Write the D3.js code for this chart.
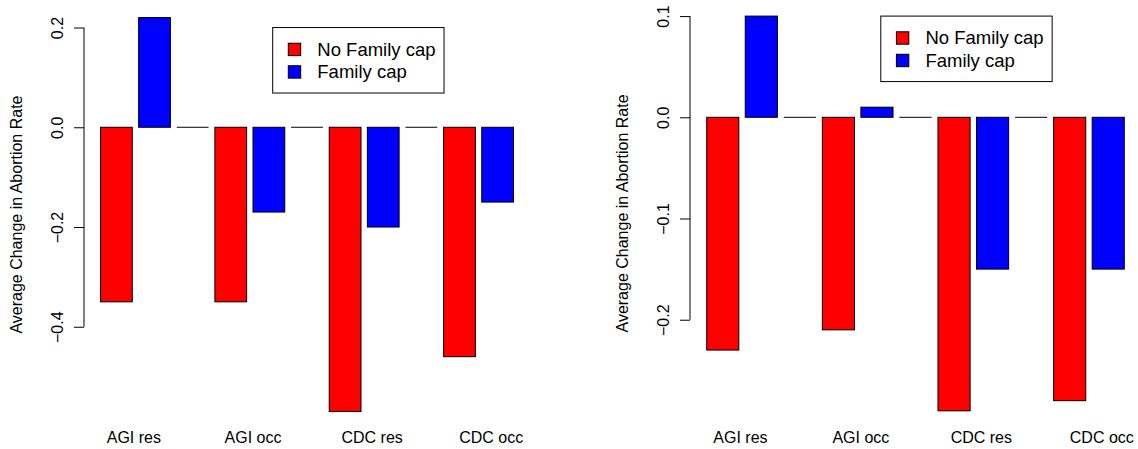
<!DOCTYPE html>
<html>
<head>
<meta charset="utf-8">
<script src="https://cdn.jsdelivr.net/npm/d3@7"></script>
<style>
  body { margin: 0; background: #fff; }
  text { font-family: "Liberation Sans", Arial, sans-serif; }
</style>
</head>
<body>
<div id="chart"></div>
<script>
const categories = ["AGI res", "AGI occ", "CDC res", "CDC occ"];
const seriesNames = ["No Family cap", "Family cap"];
const seriesColours = ["#ff0000", "#0000ff"];

const noCapLeft = [-0.35, -0.35, -0.57, -0.46];
const capLeft = [0.22, -0.17, -0.20, -0.15];
const ticksLeft = [-0.4, -0.2, 0.0, 0.2];

const noCapRight = [-0.23, -0.21, -0.29, -0.28];
const capRight = [0.10, 0.01, -0.15, -0.15];
const ticksRight = [-0.2, -0.1, 0.0, 0.1];

// label positions in barplot units (bars are 1 wide, 0.2 apart)
const labelAt = [1.25, 5.0, 8.75, 12.5];

const width = 1138;
const height = 449;

const svg = d3.select("#chart")
    .append("svg")
    .attr("width", width)
    .attr("height", height);

function panel(noCap, cap, ticks, box) {
    // bar sequence: no cap, cap, empty spacer bar between groups
    const bars = [];
    categories.forEach((c, i) => {
        bars.push({ v: noCap[i], s: 0 });
        bars.push({ v: cap[i], s: 1 });
        if (i < categories.length - 1) bars.push({ v: 0, s: -1 });
    });

    const n = bars.length;
    const xr = [0.2, 1.2 * n];
    const xpad = (xr[1] - xr[0]) * 0.04;
    const x = d3.scaleLinear().domain([xr[0] - xpad, xr[1] + xpad]).range([box.x0, box.x1]);

    const vals = bars.map(d => d.v);
    const ymin = Math.min(0, d3.min(vals)), ymax = Math.max(0, d3.max(vals));
    const ypad = (ymax - ymin) * 0.04;
    const y = d3.scaleLinear().domain([ymin - ypad, ymax + ypad]).range([box.y1, box.y0]);

    const g = svg.append("g");

    g.selectAll("rect.bar")
        .data(bars.filter(d => d.s >= 0))
        .join("rect")
        .attr("class", "bar")
        .attr("x", d => x(0.2 + 1.2 * bars.indexOf(d)))
        .attr("width", d => x(1) - x(0))
        .attr("y", d => y(Math.max(0, d.v)))
        .attr("height", d => Math.abs(y(d.v) - y(0)))
        .attr("fill", d => seriesColours[d.s])
        .attr("stroke", "#000")
        .attr("stroke-width", 1);

    g.selectAll("line.spacer")
        .data(bars.filter(d => d.s < 0))
        .join("line")
        .attr("class", "spacer")
        .attr("x1", d => x(0.2 + 1.2 * bars.indexOf(d)))
        .attr("x2", d => x(1.2 + 1.2 * bars.indexOf(d)))
        .attr("y1", y(0))
        .attr("y2", y(0))
        .attr("stroke", "#000");

    // y axis, R style
    const ax = g.append("g")
        .attr("transform", `translate(${box.x0},0)`)
        .call(d3.axisLeft(y).tickValues(ticks).tickSize(10).tickFormat(d3.format(".1f")));
    ax.select(".domain").remove();
    ax.append("line")
        .attr("y1", y(d3.min(ticks)))
        .attr("y2", y(d3.max(ticks)))
        .attr("stroke", "#000");
    ax.selectAll(".tick line").attr("stroke", "#000");
    ax.selectAll(".tick text")
        .attr("transform", "rotate(-90)")
        .attr("x", 0)
        .attr("y", -21.5)
        .attr("dy", 0)
        .attr("text-anchor", "middle")
        .attr("fill", "#000")
        .style("font-size", "16px")
        .style("font-family", "'Liberation Sans', Arial, sans-serif");

    g.append("text")
        .attr("transform", `translate(${box.x0 - 62},${(box.y0 + box.y1) / 2}) rotate(-90)`)
        .attr("text-anchor", "middle")
        .style("font-size", "16px")
        .text("Average Change in Abortion Rate");

    g.selectAll("text.cat")
        .data(categories)
        .join("text")
        .attr("class", "cat")
        .attr("x", (d, i) => x(labelAt[i]))
        .attr("y", 443.3)
        .attr("text-anchor", "middle")
        .style("font-size", "16px")
        .text(d => d);

    // legend
    const lg = g.append("g")
        .attr("transform", `translate(${x(5.62)},${y(d3.max(ticks))})`);
    const frame = lg.append("rect")
        .attr("height", 65.5)
        .attr("fill", "#fff")
        .attr("stroke", "#000");
    const items = lg.selectAll("g.item")
        .data(seriesNames)
        .join("g")
        .attr("class", "item")
        .attr("transform", (d, i) => `translate(0,${21.9 + i * 22.5})`);
    items.append("rect")
        .attr("x", 15.6)
        .attr("y", -6.2)
        .attr("width", 12.4)
        .attr("height", 12.4)
        .attr("fill", (d, i) => seriesColours[i])
        .attr("stroke", "#000");
    const labels = items.append("text")
        .attr("x", 44.6)
        .attr("dy", "0.35em")
        .style("font-size", "18.5px")
        .text(d => d);
    let tw = 0;
    labels.each(function () { tw = Math.max(tw, this.getComputedTextLength()); });
    frame.attr("width", 44.6 + tw + 8.5);
}

panel(noCapLeft, capLeft, ticksLeft, { x0: 84, x1: 530, y0: 1.8, y1: 427.3 });
panel(noCapRight, capRight, ticksRight, { x0: 690, x1: 1141, y0: 0.3, y1: 426.6 });
</script>
</body>
</html>
